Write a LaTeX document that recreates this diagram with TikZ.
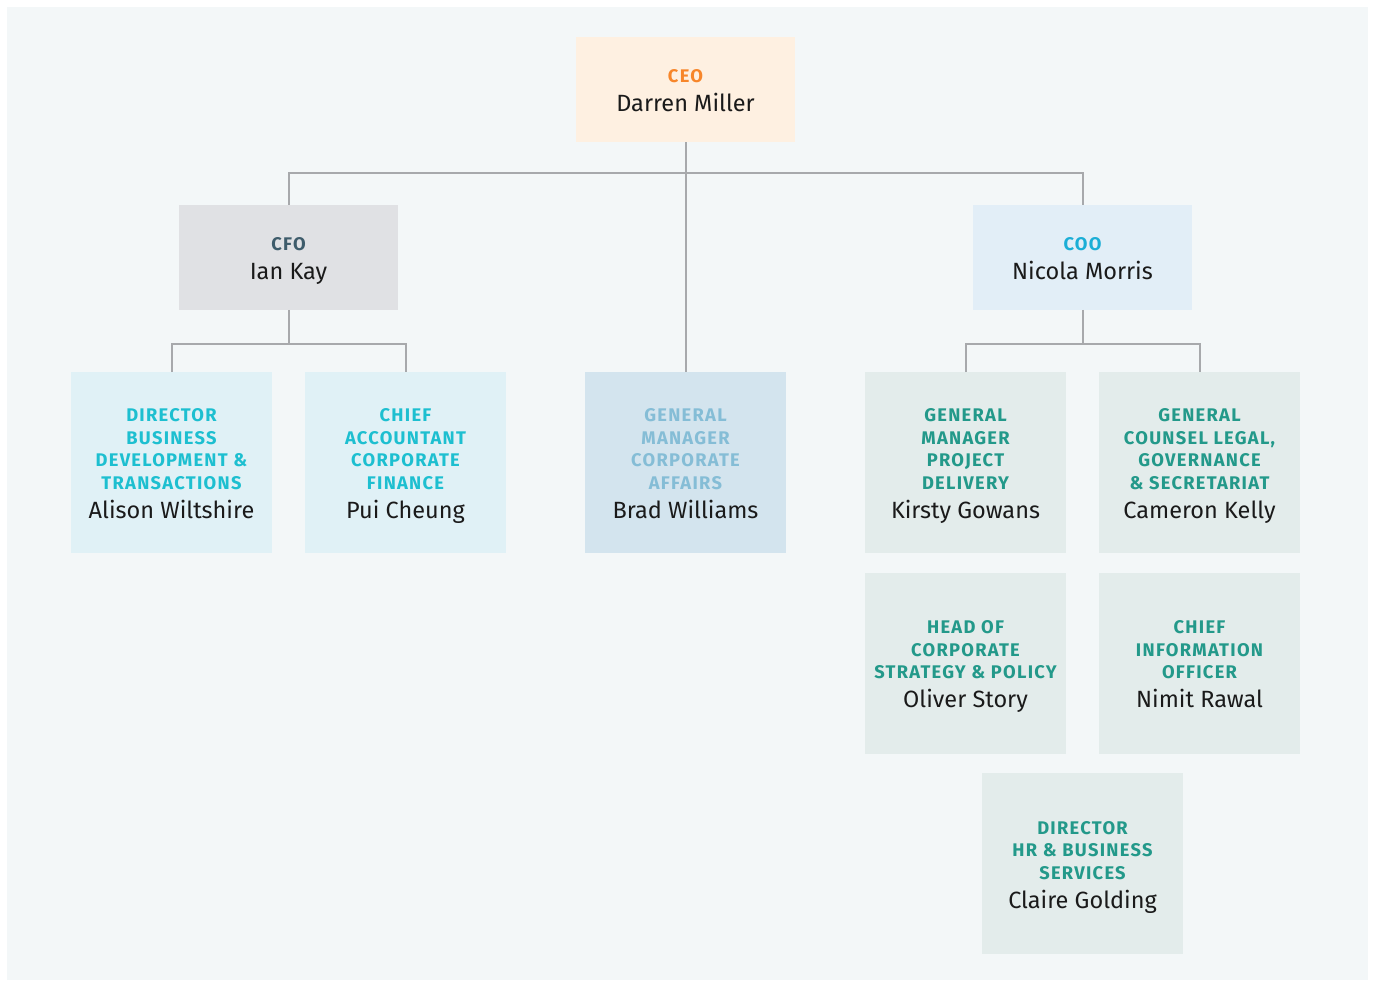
\documentclass[tikz,border=0pt]{standalone}
\usepackage{fontspec}
\setmainfont{Fira Sans}
\newfontfamily\ttlfont[LetterSpace=7]{Fira Sans}
\definecolor{bgc}{HTML}{F3F7F8}
\definecolor{linec}{HTML}{A7A9AC}
\definecolor{ceofill}{HTML}{FEF0E1}
\definecolor{ceotxt}{HTML}{F7862A}
\definecolor{cfofill}{HTML}{E0E1E4}
\definecolor{cfotxt}{HTML}{3E5C6B}
\definecolor{coofill}{HTML}{E2EEF7}
\definecolor{cootxt}{HTML}{1BAED6}
\definecolor{cyfill}{HTML}{E0F1F6}
\definecolor{cytxt}{HTML}{1DBFD0}
\definecolor{gmfill}{HTML}{D3E4EE}
\definecolor{gmtxt}{HTML}{85BDD6}
\definecolor{tlfill}{HTML}{E3ECEB}
\definecolor{tltxt}{HTML}{23998A}
\definecolor{nametxt}{HTML}{1A1A1A}
\newcommand\card[3]{\parbox{200pt}{\vspace*{7pt}\centering
  {\ttlfont\bfseries\fontsize{18.3}{22.5}\selectfont\color{#1}#2\par}%
  {\fontsize{23.5}{29}\selectfont\color{nametxt}#3\vphantom{Ag}\par}}}
\tikzset{
  cardbox/.style={inner sep=0pt, outer sep=0pt, minimum width=201pt, minimum height=181pt},
  topbox/.style={inner sep=0pt, outer sep=0pt, minimum width=219pt, minimum height=105pt},
  link/.style={draw=linec, line width=2pt}
}
\begin{document}
\begin{tikzpicture}[x=1pt,y=-1pt]
\useasboundingbox (0,0) rectangle (1375,981);
\fill[white] (0,0) rectangle (1375,981);
\fill[bgc] (7,7) rectangle (1368,980);

% top level
\node[topbox, fill=ceofill] (ceo) at (685.5,90) {\card{ceotxt}{CEO}{Darren Miller}};
\node[topbox, fill=cfofill] (cfo) at (288.5,257.5) {\card{cfotxt}{CFO}{Ian Kay}};
\node[topbox, fill=coofill] (coo) at (1082.5,257.5) {\card{cootxt}{COO}{Nicola Morris}};

% third row
\node[cardbox, fill=cyfill] (dbd) at (171.5,462.5) {\card{cytxt}{DIRECTOR\\BUSINESS\\DEVELOPMENT \&\\TRANSACTIONS}{Alison Wiltshire}};
\node[cardbox, fill=cyfill] (cacf) at (405.5,462.5) {\card{cytxt}{CHIEF\\ACCOUNTANT\\CORPORATE\\FINANCE}{Pui Cheung}};
\node[cardbox, fill=gmfill] (gmca) at (685.5,462.5) {\card{gmtxt}{GENERAL\\MANAGER\\CORPORATE\\AFFAIRS}{Brad Williams}};
\node[cardbox, fill=tlfill] (gmpd) at (965.5,462.5) {\card{tltxt}{GENERAL\\MANAGER\\PROJECT\\DELIVERY}{Kirsty Gowans}};
\node[cardbox, fill=tlfill] (gclg) at (1199.5,462.5) {\card{tltxt}{GENERAL\\COUNSEL LEGAL,\\GOVERNANCE\\\& SECRETARIAT}{Cameron Kelly}};

% fourth / fifth rows
\node[cardbox, fill=tlfill] (hcsp) at (965.5,663.5) {\card{tltxt}{HEAD OF\\CORPORATE\\STRATEGY \& POLICY}{Oliver Story}};
\node[cardbox, fill=tlfill] (cio) at (1199.5,663.5) {\card{tltxt}{CHIEF\\INFORMATION\\OFFICER}{Nimit Rawal}};
\node[cardbox, fill=tlfill] (dhr) at (1082.5,863.5) {\card{tltxt}{DIRECTOR\\HR \& BUSINESS\\SERVICES}{Claire Golding}};

% connectors
\coordinate (bus1) at (685.5,173);
\coordinate (bus2) at (288.5,344);
\coordinate (bus3) at (1082.5,344);
\draw[link] (ceo.south) -- (gmca.north);
\draw[link] (cfo.north) |- (bus1) -| (coo.north);
\draw[link] (cfo.south) -- (bus2);
\draw[link] (dbd.north) |- (bus2) -| (cacf.north);
\draw[link] (coo.south) -- (bus3);
\draw[link] (gmpd.north) |- (bus3) -| (gclg.north);
\end{tikzpicture}
\end{document}
